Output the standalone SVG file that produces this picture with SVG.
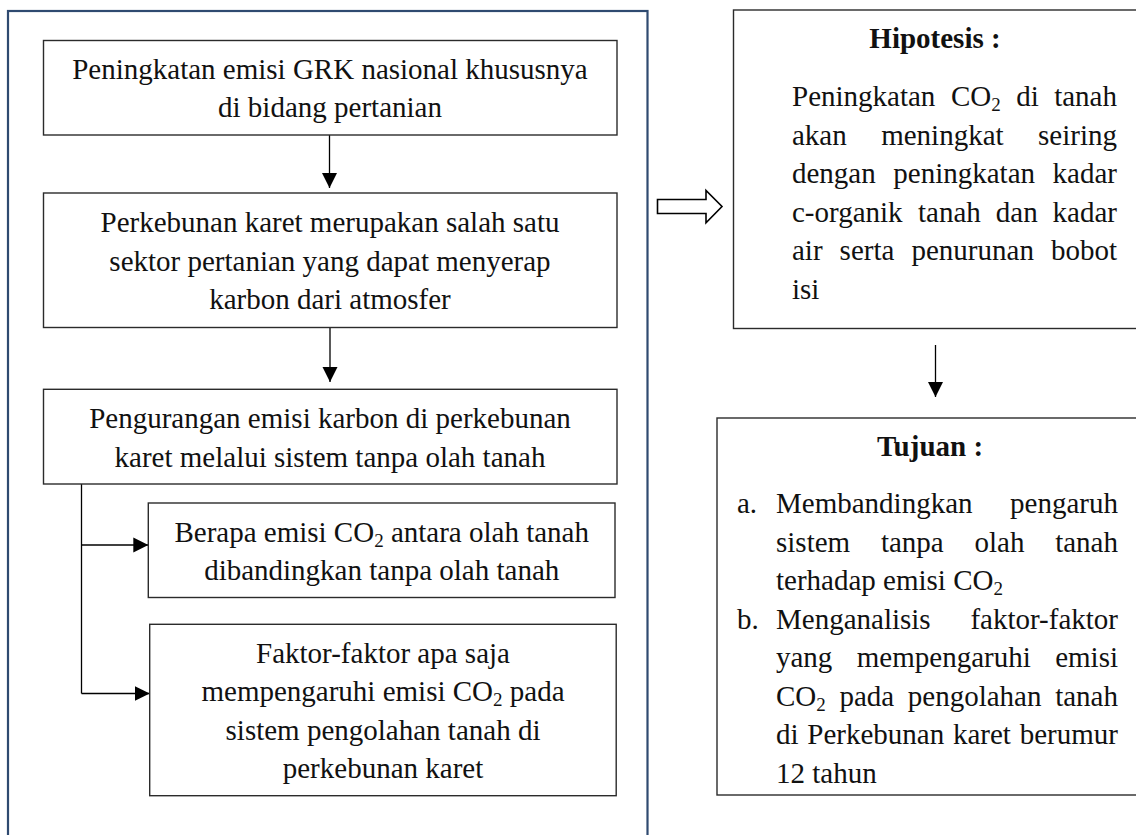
<svg xmlns="http://www.w3.org/2000/svg" width="1136" height="835" viewBox="0 0 1136 835">
<style>
.t{font-family:"Liberation Serif","Times New Roman",serif;font-size:29px;fill:#111}
.c{text-anchor:middle}
.e{text-anchor:end}
.b{font-weight:bold}
.box{fill:#fff;stroke:#2b2b2b;stroke-width:1.4}
.outer{fill:none;stroke:#2f4a70;stroke-width:2.2}
.ln{stroke:#000;stroke-width:1.3;fill:none}
.sub{font-size:19px}
</style>
<defs>
<marker id="ah" markerUnits="userSpaceOnUse" markerWidth="16" markerHeight="16" viewBox="0 0 16 16" refX="15" refY="8" orient="auto">
<path d="M0,0.5 L15,8 L0,15.5 z" fill="#000"/>
</marker>
</defs>
<rect width="1136" height="835" fill="#fff"/>
<rect class="outer" x="8" y="11" width="639.5" height="900"/>

<g id="connectors">
<line class="ln" x1="329.5" y1="135" x2="329.5" y2="188" marker-end="url(#ah)"/>
<line class="ln" x1="330" y1="328" x2="330" y2="382" marker-end="url(#ah)"/>
<path class="ln" d="M81.5,484 V693.5"/>
<line class="ln" x1="81.5" y1="545" x2="148.3" y2="545" marker-end="url(#ah)"/>
<line class="ln" x1="81.5" y1="693.5" x2="149.7" y2="693.5" marker-end="url(#ah)"/>
<line class="ln" x1="935.5" y1="345" x2="935.5" y2="397" marker-end="url(#ah)"/>
<polygon points="657.5,199.5 706,199.5 706,190.5 722,206.5 706,222.8 706,213.5 657.5,213.5" fill="#fff" stroke="#000" stroke-width="1.6" stroke-linejoin="miter"/>
</g>

<g id="n1">
<rect class="box" x="43.5" y="40.5" width="573.5" height="94.5"/>
<text class="t c" x="330" y="78.5">Peningkatan emisi GRK nasional khususnya</text>
<text class="t c" x="330" y="117">di bidang pertanian</text>
</g>

<g id="n2">
<rect class="box" x="43.5" y="193" width="573.5" height="134.5"/>
<text class="t c" x="330" y="232">Perkebunan karet merupakan salah satu</text>
<text class="t c" x="330" y="270.5">sektor pertanian yang dapat menyerap</text>
<text class="t c" x="330" y="309">karbon dari atmosfer</text>
</g>

<g id="n3">
<rect class="box" x="43.5" y="389.3" width="573.5" height="94.7"/>
<text class="t c" x="330" y="428">Pengurangan emisi karbon di perkebunan</text>
<text class="t c" x="330" y="466.5">karet melalui sistem tanpa olah tanah</text>
</g>

<g id="n4">
<rect class="box" x="148.3" y="503" width="466.7" height="94.5"/>
<text class="t c" x="381.7" y="541.5">Berapa emisi CO<tspan class="sub" dy="5">2</tspan><tspan dy="-5"> antara olah tanah</tspan></text>
<text class="t c" x="381.7" y="580">dibandingkan tanpa olah tanah</text>
</g>

<g id="n5">
<rect class="box" x="149.7" y="624.3" width="466.5" height="171.4"/>
<text class="t c" x="383" y="662.5">Faktor-faktor apa saja</text>
<text class="t c" x="383" y="701">mempengaruhi emisi CO<tspan class="sub" dy="5">2</tspan><tspan dy="-5"> pada</tspan></text>
<text class="t c" x="383" y="739.5">sistem pengolahan tanah di</text>
<text class="t c" x="383" y="778">perkebunan karet</text>
</g>

<g id="hipotesis">
<rect class="box" x="733.5" y="10" width="500" height="318.5"/>
<text class="t c b" x="935" y="48">Hipotesis :</text>
<text class="t" x="792" y="106">Peningkatan</text>
<text class="t" x="950.9" y="106">CO<tspan class="sub" dy="5">2</tspan></text>
<text class="t" x="1016.2" y="106">di</text>
<text class="t e" x="1117" y="106">tanah</text>
<text class="t" x="792" y="144.5">akan</text>
<text class="t" x="881.2" y="144.5">meningkat</text>
<text class="t e" x="1117" y="144.5">seiring</text>
<text class="t" x="792" y="183">dengan</text>
<text class="t" x="893.3" y="183">peningkatan</text>
<text class="t e" x="1117" y="183">kadar</text>
<text class="t" x="792" y="221.5">c-organik</text>
<text class="t" x="918" y="221.5">tanah</text>
<text class="t" x="995.8" y="221.5">dan</text>
<text class="t e" x="1117" y="221.5">kadar</text>
<text class="t" x="792" y="260">air</text>
<text class="t" x="839.6" y="260">serta</text>
<text class="t" x="911.5" y="260">penurunan</text>
<text class="t e" x="1117" y="260">bobot</text>
<text class="t" x="792" y="298.5">isi</text>
</g>

<g id="tujuan">
<rect class="box" x="717" y="418" width="500" height="377"/>
<text class="t c b" x="930" y="456">Tujuan :</text>
<text class="t" x="737" y="513">a.</text>
<text class="t" x="776" y="513">Membandingkan</text>
<text class="t e" x="1118" y="513">pengaruh</text>
<text class="t" x="776" y="551.5">sistem</text>
<text class="t" x="880.9" y="551.5">tanpa</text>
<text class="t" x="974.5" y="551.5">olah</text>
<text class="t e" x="1118" y="551.5">tanah</text>
<text class="t" x="776" y="590">terhadap emisi CO<tspan class="sub" dy="5">2</tspan></text>
<text class="t" x="737" y="628.5">b.</text>
<text class="t" x="776" y="628.5">Menganalisis</text>
<text class="t e" x="1118" y="628.5">faktor-faktor</text>
<text class="t" x="776" y="667">yang</text>
<text class="t" x="856.8" y="667">mempengaruhi</text>
<text class="t e" x="1118" y="667">emisi</text>
<text class="t" x="776" y="705.5">CO<tspan class="sub" dy="5">2</tspan></text>
<text class="t" x="839.4" y="705.5">pada</text>
<text class="t" x="907.8" y="705.5">pengolahan</text>
<text class="t e" x="1118" y="705.5">tanah</text>
<text class="t" x="776" y="744">di</text>
<text class="t" x="807.3" y="744">Perkebunan</text>
<text class="t" x="952.9" y="744">karet</text>
<text class="t e" x="1118" y="744">berumur</text>
<text class="t" x="776" y="782.5">12 tahun</text>
</g>
</svg>
